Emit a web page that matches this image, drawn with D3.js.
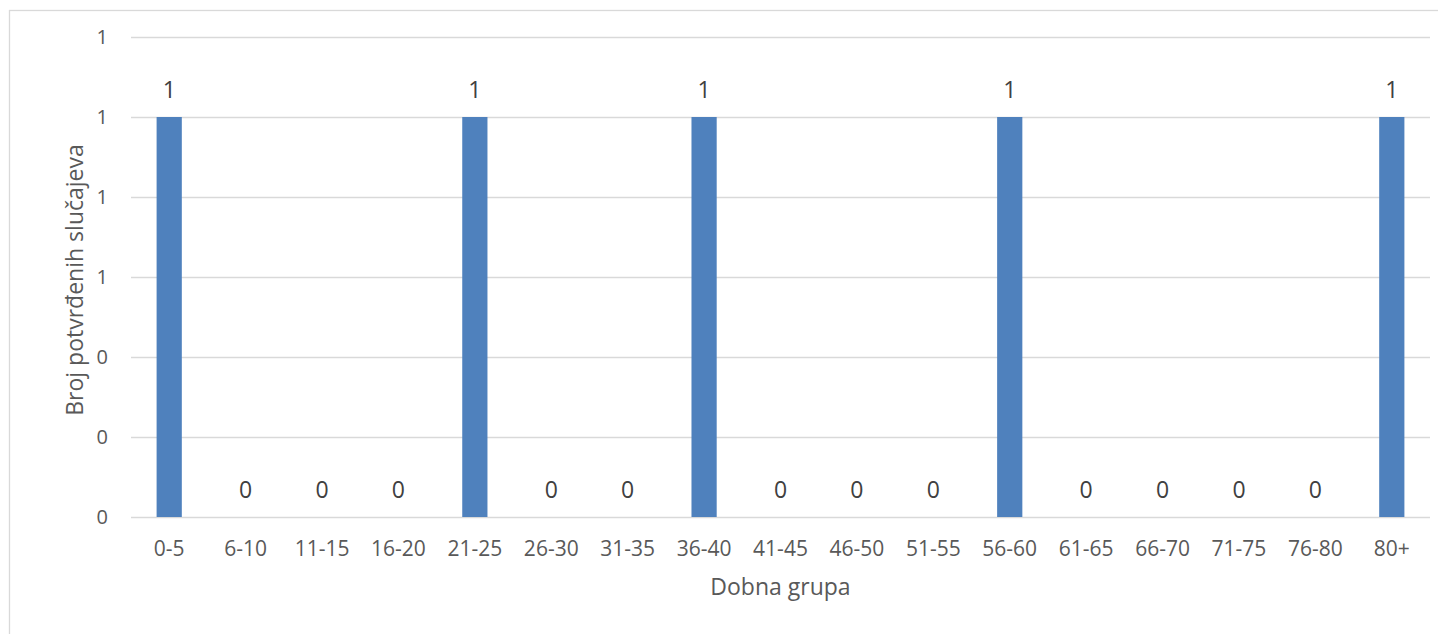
<!DOCTYPE html>
<html>
<head>
<meta charset="utf-8">
<script src="https://cdn.jsdelivr.net/npm/d3@7/dist/d3.min.js"></script>
<style>
body { margin: 0; overflow: hidden; background: #fff; }
svg { display: block; }
text { font-family: "Open Sans", sans-serif; }
</style>
</head>
<body>
<svg width="1438" height="634"></svg>
<script>
const categories = ['0-5', '6-10', '11-15', '16-20', '21-25', '26-30', '31-35', '36-40',
  '41-45', '46-50', '51-55', '56-60', '61-65', '66-70', '71-75', '76-80', '80+'];
const values = [1, 0, 0, 0, 1, 0, 0, 1, 0, 0, 0, 1, 0, 0, 0, 0, 1];
const yTicks = [0, 0.2, 0.4, 0.6, 0.8, 1, 1.2];
const xTitle = 'Dobna grupa';
const yTitle = 'Broj potvrđenih slučajeva';

const svg = d3.select('svg');
const width = +svg.attr('width');
const height = +svg.attr('height');

// chart border
svg.append('rect')
  .attr('x', 9.5).attr('y', 10.5)
  .attr('width', width - 8).attr('height', height)
  .attr('fill', 'none').attr('stroke', '#d9d9d9').attr('stroke-width', 1.3);

const margin = { top: 37, right: 8, bottom: 117, left: 131 };
const innerWidth = width - margin.left - margin.right;
const innerHeight = height - margin.top - margin.bottom;

const g = svg.append('g').attr('transform', `translate(${margin.left},${margin.top})`);

const x = d3.scaleBand().domain(categories).range([0, innerWidth]).paddingInner(0.67).paddingOuter(0.335);
const y = d3.scaleLinear().domain([0, 1.2]).range([innerHeight, 0]);

const yAxis = d3.axisLeft(y).tickValues(yTicks).tickSize(-innerWidth).tickPadding(23)
  .tickFormat(d => d3.format('.0f')(d));
const yAxisG = g.append('g').call(yAxis).attr('font-size', null).attr('font-family', null);
yAxisG.select('.domain').remove();
yAxisG.selectAll('.tick line').attr('stroke', '#d9d9d9').attr('stroke-width', 1.5);
yAxisG.selectAll('.tick text').style('font-size', '20px').style('fill', '#595959');

const xAxis = d3.axisBottom(x).tickSize(0).tickPadding(32);
const xAxisG = g.append('g').attr('transform', `translate(0,${innerHeight})`).call(xAxis)
  .attr('font-size', null).attr('font-family', null);
xAxisG.select('.domain').remove();
xAxisG.selectAll('.tick text')
  .attr('dy', '0.35em')
  .style('font-size', '21px').style('fill', '#595959');

g.selectAll('rect.bar')
  .data(values)
  .enter().append('rect')
  .attr('class', 'bar')
  .attr('x', (d, i) => x(categories[i]))
  .attr('y', d => y(d))
  .attr('width', x.bandwidth())
  .attr('height', d => innerHeight - y(d))
  .attr('fill', '#4f81bd');

g.selectAll('text.data-label')
  .data(values)
  .enter().append('text')
  .attr('class', 'data-label')
  .attr('x', (d, i) => x(categories[i]) + x.bandwidth() / 2)
  .attr('y', d => y(d) - 19)
  .attr('text-anchor', 'middle')
  .style('font-size', '23px').style('fill', '#404040')
  .text(d => d);

svg.append('text')
  .attr('x', margin.left + innerWidth / 2)
  .attr('y', 595)
  .attr('text-anchor', 'middle')
  .style('font-size', '23px').style('fill', '#595959')
  .text(xTitle);

svg.append('text')
  .attr('transform', `translate(83,${margin.top + innerHeight / 2 + 3}) rotate(-90)`)
  .attr('text-anchor', 'middle')
  .style('font-size', '23px').style('fill', '#595959')
  .text(yTitle);
</script>
</body>
</html>
